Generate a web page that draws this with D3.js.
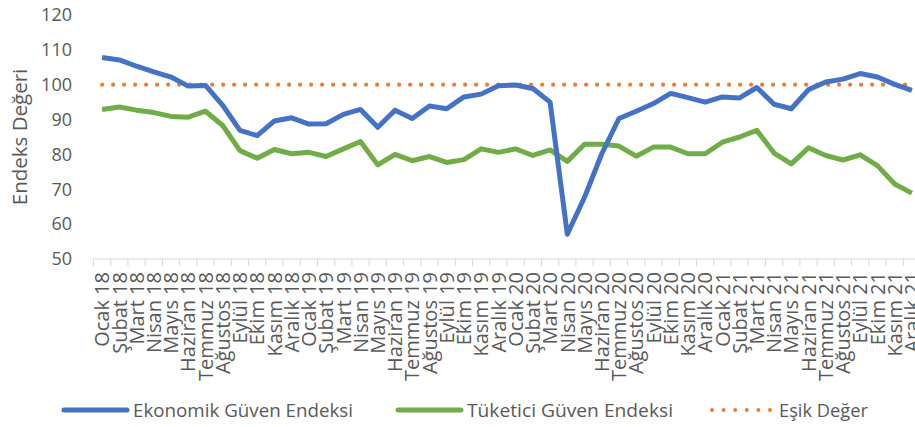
<!DOCTYPE html>
<html>
<head>
<meta charset="utf-8">
<script src="https://cdn.jsdelivr.net/npm/d3@7"></script>
<style>
  body { margin: 0; background: #fff; }
  text { font-family: "Open Sans", sans-serif; fill: #595959; }
</style>
</head>
<body>
<div id="main"></div>
<script>
var months = ["Ocak", "Şubat", "Mart", "Nisan", "Mayıs", "Haziran", "Temmuz", "Ağustos", "Eylül", "Ekim", "Kasım", "Aralık"];
var years = ["18", "19", "20", "21"];
var categories = [];
years.forEach(function(y) { months.forEach(function(m) { categories.push(m + " " + y); }); });

var ekonomik = [107.8, 107.1, 105.3, 103.7, 102.2, 99.6, 99.8, 94.1, 86.9, 85.4, 89.6, 90.5,
                88.7, 88.8, 91.5, 92.9, 87.8, 92.7, 90.3, 93.9, 93.1, 96.5, 97.3, 99.7,
                99.9, 98.9, 95.0, 57.1, 67.7, 80.2, 90.3, 92.4, 94.6, 97.5, 96.3, 95.0,
                96.5, 96.2, 99.2, 94.4, 93.1, 98.6, 100.8, 101.6, 103.2, 102.2, 100.1, 98.4];
var tuketici = [92.9, 93.6, 92.7, 92.0, 90.9, 90.7, 92.4, 88.3, 81.1, 78.9, 81.4, 80.2,
                80.6, 79.4, 81.6, 83.7, 77.0, 80.0, 78.2, 79.4, 77.7, 78.5, 81.6, 80.6,
                81.6, 79.7, 81.3, 78.0, 82.9, 82.9, 82.4, 79.5, 82.1, 82.1, 80.2, 80.2,
                83.5, 85.0, 86.9, 80.4, 77.3, 81.9, 79.7, 78.4, 79.9, 76.8, 71.5, 68.9];
var esik = 100;
var yTicks = [50, 60, 70, 80, 90, 100, 110, 120];

var w = 915, h = 427;
var margin = { top: 15, left: 93.5, right: -5.5, bottom: 168 };

var svg = d3.select("#main")
  .append("svg")
  .attr("width", w)
  .attr("height", h);

var x = d3.scaleBand()
  .domain(categories)
  .range([margin.left, w - margin.right])
  .paddingInner(0)
  .paddingOuter(0);

var y = d3.scaleLinear()
  .domain([50, 120])
  .range([h - margin.bottom, margin.top]);

var cx = function(d, i) { return x(categories[i]) + x.bandwidth() / 2; };

// y labels
svg.selectAll(".ylab")
  .data(yTicks)
  .enter()
  .append("text")
  .attr("class", "ylab")
  .attr("x", 72)
  .attr("y", function(d) { return y(d); })
  .attr("dy", "0.35em")
  .attr("text-anchor", "end")
  .style("font-size", "18px")
  .text(function(d) { return d; });

svg.append("text")
  .attr("transform", "translate(27," + ((y(50) + y(120)) / 2) + ") rotate(-90)")
  .attr("text-anchor", "middle")
  .style("font-size", "20.5px")
  .text("Endeks Değeri");

// x axis line and boundary ticks
var y0 = y(50);
svg.append("line")
  .attr("x1", margin.left).attr("x2", w)
  .attr("y1", y0).attr("y2", y0)
  .attr("stroke", "#d9d9d9").attr("stroke-width", 1);

svg.selectAll(".xtick")
  .data(categories)
  .enter()
  .append("line")
  .attr("class", "xtick")
  .attr("x1", function(d) { return x(d); })
  .attr("x2", function(d) { return x(d); })
  .attr("y1", y0).attr("y2", y0 + 7)
  .attr("stroke", "#d9d9d9").attr("stroke-width", 1);

svg.selectAll(".xlab")
  .data(categories)
  .enter()
  .append("text")
  .attr("class", "xlab")
  .attr("transform", function(d) { return "translate(" + (x(d) + x.bandwidth() / 2) + "," + (y0 + 13) + ") rotate(-90)"; })
  .attr("dy", "0.36em")
  .attr("text-anchor", "end")
  .style("font-size", "20px")
  .text(function(d) { return d; });

// threshold
svg.append("line")
  .attr("x1", cx(null, 0)).attr("x2", cx(null, categories.length - 1))
  .attr("y1", y(esik)).attr("y2", y(esik))
  .attr("stroke", "#ED7D31")
  .attr("stroke-width", 4.2)
  .attr("stroke-linecap", "round")
  .attr("stroke-dasharray", "0 11");

var line = d3.line()
  .x(function(d, i) { return cx(d, i); })
  .y(function(d) { return y(d); });

svg.append("path")
  .datum(tuketici)
  .attr("d", line)
  .attr("fill", "none")
  .attr("stroke", "#70AD47")
  .attr("stroke-width", 5)
  .attr("stroke-linejoin", "round");

svg.append("path")
  .datum(ekonomik)
  .attr("d", line)
  .attr("fill", "none")
  .attr("stroke", "#4472C4")
  .attr("stroke-width", 5)
  .attr("stroke-linejoin", "round");

// legend
var legend = [
  { name: "Ekonomik Güven Endeksi", color: "#4472C4", x: 64, dotted: false, tl: 220 },
  { name: "Tüketici Güven Endeksi", color: "#70AD47", x: 398, dotted: false, tl: 206 },
  { name: "Eşik Değer", color: "#ED7D31", x: 710, dotted: true, tl: 89 }
];
var ly = 410;
var lg = svg.selectAll(".leg")
  .data(legend)
  .enter()
  .append("g")
  .attr("class", "leg");

lg.append("line")
  .attr("x1", function(d) { return d.x + (d.dotted ? 2 : 0); })
  .attr("x2", function(d) { return d.x + 63; })
  .attr("y1", ly).attr("y2", ly)
  .attr("stroke", function(d) { return d.color; })
  .attr("stroke-width", function(d) { return d.dotted ? 4 : 5; })
  .attr("stroke-linecap", "round")
  .attr("stroke-dasharray", function(d) { return d.dotted ? "0 11.6" : null; });

lg.append("text")
  .attr("x", function(d) { return d.x + 69; })
  .attr("y", ly)
  .attr("dy", "0.35em")
  .attr("textLength", function(d) { return d.tl; })
  .attr("lengthAdjust", "spacingAndGlyphs")
  .style("font-size", "19px")
  .text(function(d) { return d.name; });
</script>
</body>
</html>
